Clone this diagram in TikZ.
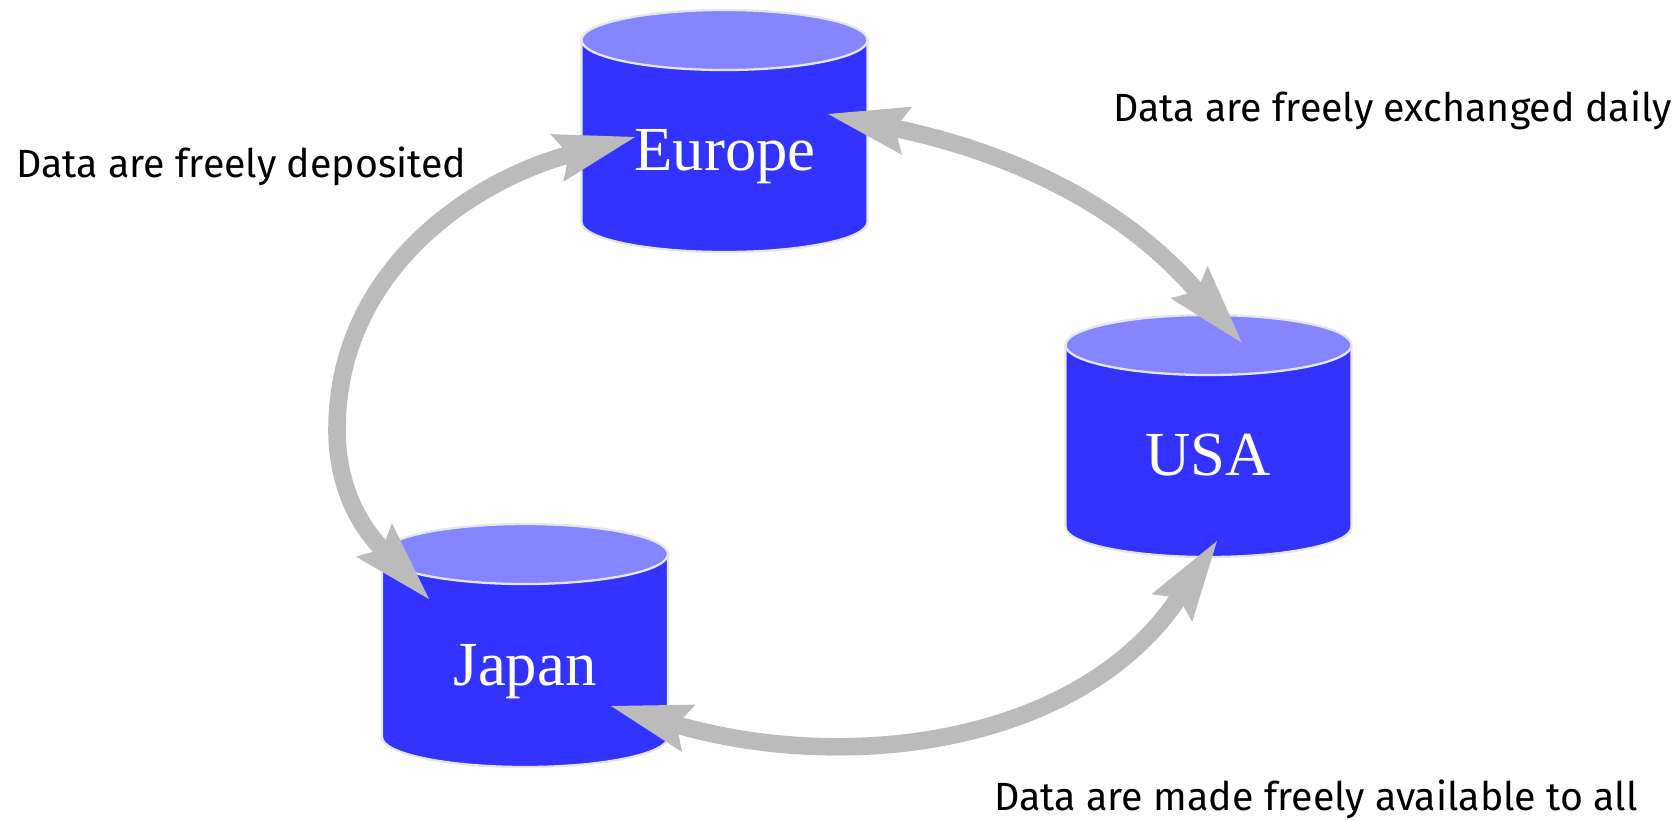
\documentclass[tikz,border=0pt]{standalone}
\usepackage{fontspec}
\setmainfont{Liberation Serif}
\newfontfamily\notefont{Fira Sans}
\usetikzlibrary{arrows.meta}
\definecolor{drumbody}{HTML}{3333FF}
\definecolor{drumtop}{HTML}{8585FF}
\definecolor{drumrim}{HTML}{E6E6E6}
\definecolor{flowgray}{HTML}{BBBBBB}
\tikzset{
  drum/.style={draw=drumrim, line width=1.3pt},
  site/.style={text=white, anchor=base, inner sep=0pt,
    font=\fontsize{35.7}{40}\selectfont},
  note/.style={anchor=base west, inner sep=0pt,
    font=\notefont\fontsize{22.4}{26}\selectfont},
  flow/.style={draw=flowgray, line width=10pt,
    >={Stealth[length=46pt, width=28pt, inset=7pt, line width=0pt]}, <->}
}

\begin{document}
\begin{tikzpicture}[x=0.02cm, y=0.02cm]
  \useasboundingbox (0,0) rectangle (1679,-819);

  % Databases
  \foreach \cx/\yt/\yb in {724.5/40/222, 1208.5/345/527, 525/554/737}{
    \draw[drum, fill=drumbody] (\cx-143,-\yt) -- (\cx-143,-\yb)
      arc[start angle=180, end angle=360, x radius=143, y radius=30]
      -- (\cx+143,-\yt) -- cycle;
    \draw[drum, fill=drumtop] (\cx,-\yt) ellipse [x radius=143, y radius=30];
  }

  % Arrow ends
  \coordinate (eu-w) at (635,-137);
  \coordinate (eu-e) at (828,-114);
  \coordinate (us-n) at (1242,-343);
  \coordinate (us-s) at (1217,-541);
  \coordinate (jp-n) at (429,-599);
  \coordinate (jp-e) at (611,-706);
  \coordinate (bend) at (337,-430);

  \draw[flow] (eu-w) to[out=195, in=90] (bend) to[out=-90, in=133] (jp-n);
  \draw[flow] (eu-e) to[out=-12, in=131] (us-n);
  \draw[flow] (jp-e) to[out=-16, in=236] (us-s);

  % Names
  \node[site] (europe) at (725,-170) {Europe};
  \node[site] (usa) at (1208,-475) {USA};
  \node[site] (japan) at (525,-685) {Japan};

  % Notes
  \node[note] (deposit) at (16,-177) {Data are freely deposited};
  \node[note] (exchange) at (1113,-121) {Data are freely exchanged daily};
  \node[note] (avail) at (994,-810) {Data are made freely available to all};
\end{tikzpicture}
\end{document}
